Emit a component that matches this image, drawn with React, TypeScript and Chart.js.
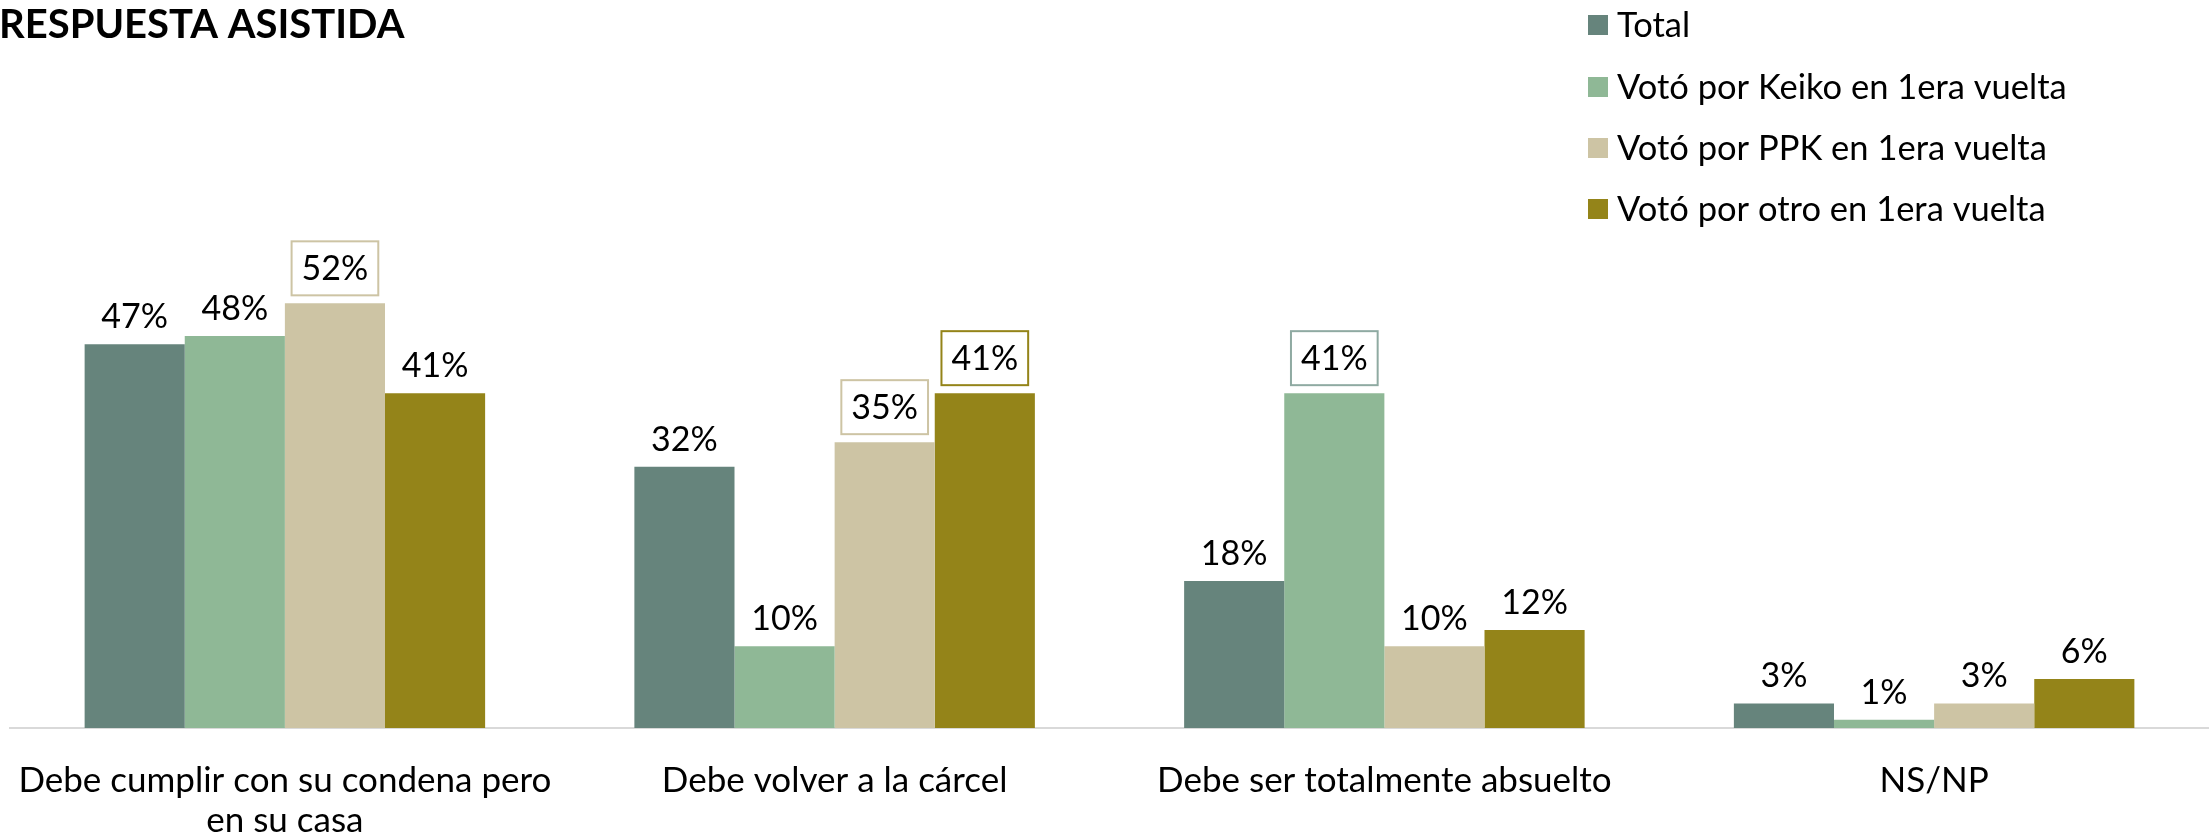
import React, { useEffect, useRef } from "react";
import { Chart, registerables } from "chart.js";

Chart.register(...registerables);

// ---- data ----
const categories: (string | string[])[] = [
  ["Debe cumplir con su condena pero", "en su casa"],
  "Debe volver a la cárcel",
  "Debe ser totalmente absuelto",
  "NS/NP",
];
const seriesNames = [
  "Total",
  "Votó por Keiko en 1era vuelta",
  "Votó por PPK en 1era vuelta",
  "Votó por otro en 1era vuelta",
];
const totalValues = [47, 32, 18, 3];
const keikoValues = [48, 10, 41, 1];
const ppkValues = [52, 35, 10, 3];
const otroValues = [41, 41, 12, 6];
const titleText = "RESPUESTA ASISTIDA";

// ---- styles ----
const seriesColors = ["#66847C", "#8FB896", "#CDC4A4", "#948419"];
const boxedLabels = [
  { series: 2, index: 0, color: "#CDC4A4" },
  { series: 2, index: 1, color: "#CDC4A4" },
  { series: 3, index: 1, color: "#948419" },
  { series: 1, index: 2, color: "#8FAAA2" },
];
const FONT = "Lato";

const overlayPlugin = {
  id: "overlay",
  afterDatasetsDraw(chart: any) {
    const ctx = chart.ctx as CanvasRenderingContext2D;
    ctx.save();
    ctx.font = `34px ${FONT}`;
    ctx.textAlign = "center";
    ctx.textBaseline = "middle";
    chart.data.datasets.forEach((ds: any, s: number) => {
      const meta = chart.getDatasetMeta(s);
      meta.data.forEach((bar: any, i: number) => {
        const text = `${ds.data[i]}%`;
        const b = boxedLabels.find((e) => e.series === s && e.index === i);
        const x = bar.x;
        const top = bar.y;
        if (b) {
          const w = ctx.measureText(text).width + 20;
          const h = 54;
          const by = top - 8 - h;
          ctx.fillStyle = "#ffffff";
          ctx.fillRect(x - w / 2, by, w, h);
          ctx.strokeStyle = b.color;
          ctx.lineWidth = 2;
          ctx.strokeRect(x - w / 2, by, w, h);
          ctx.fillStyle = "#000000";
          ctx.fillText(text, x, by + h / 2 + 1);
        } else {
          ctx.fillStyle = "#000000";
          ctx.fillText(text, x, top - 27);
        }
      });
    });
    ctx.restore();
  },
  afterDraw(chart: any) {
    const ctx = chart.ctx as CanvasRenderingContext2D;
    ctx.save();
    // title
    ctx.fillStyle = "#000000";
    ctx.font = `bold 40px ${FONT}`;
    ctx.textAlign = "left";
    ctx.textBaseline = "alphabetic";
    ctx.fillText(titleText, -1, 38);
    // legend
    const rowY = [25, 87, 148, 209];
    ctx.font = `34.5px ${FONT}`;
    ctx.textBaseline = "middle";
    chart.data.datasets.forEach((ds: any, s: number) => {
      const cy = rowY[s];
      ctx.fillStyle = ds.backgroundColor;
      ctx.fillRect(1588, cy - 10, 20, 20);
      ctx.fillStyle = "#000000";
      ctx.fillText(ds.label, 1617, cy + 1);
    });
    ctx.restore();
  },
};

export default function App() {
  const ref = useRef<HTMLCanvasElement | null>(null);
  useEffect(() => {
    if (!ref.current) return;
    const values = [totalValues, keikoValues, ppkValues, otroValues];
    const chart = new Chart(ref.current, {
      type: "bar",
      data: {
        labels: categories,
        datasets: values.map((v, k) => ({
          label: seriesNames[k],
          data: v,
          backgroundColor: seriesColors[k],
          borderWidth: 0,
          categoryPercentage: 0.7285,
          barPercentage: 1.0,
        })),
      },
      options: {
        responsive: false,
        animation: false,
        devicePixelRatio: 1,
        layout: { padding: { left: 10, right: 0, top: 238, bottom: 0 } },
        plugins: {
          legend: { display: false },
          title: { display: false },
          tooltip: { enabled: false },
        },
        scales: {
          x: {
            grid: { display: false, drawTicks: true, tickLength: 33 },
            border: { display: true, color: "#D9D9D9", width: 2 },
            ticks: {
              color: "#000000",
              font: { family: FONT, size: 35, lineHeight: 39.5 / 35 },
              padding: 0,
              maxRotation: 0,
              minRotation: 0,
              autoSkip: false,
            },
          },
          y: { display: false, min: 0, max: 60 },
        },
      },
      plugins: [overlayPlugin],
    });
    return () => chart.destroy();
  }, []);
  return (
    <div
      style={{
        position: "absolute",
        left: 0,
        top: 0,
        width: 2209,
        height: 837,
        overflow: "hidden",
        background: "#ffffff",
      }}
    >
      <canvas ref={ref} width={2209} height={840} style={{ display: "block" }} />
    </div>
  );
}
